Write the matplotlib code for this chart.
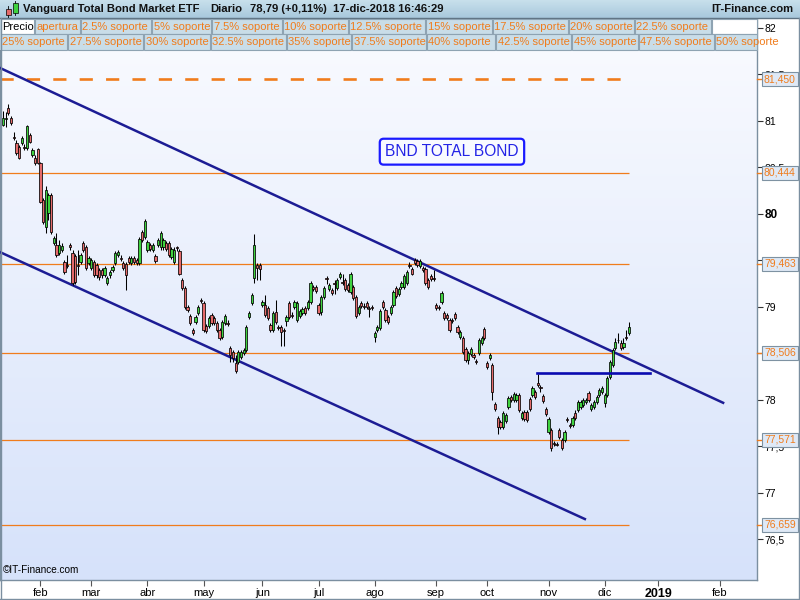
import matplotlib
matplotlib.use("Agg")
import matplotlib.pyplot as plt
import matplotlib.transforms as mtransforms
from matplotlib.colors import LinearSegmentedColormap
from matplotlib.patches import Rectangle
import numpy as np
import pandas as pd

plt.rcParams["font.family"] = ["Liberation Sans", "DejaVu Sans"]

# --- data ------------------------------------------------------------------
first_day = "2018-01-11"
last_day = "2018-12-17"
market_holidays = ["2018-01-15", "2018-02-19", "2018-03-30", "2018-05-28",
                   "2018-07-04", "2018-09-03", "2018-11-22", "2018-12-05"]

opens = [
    80.96, 81.02, 81.14, 81.03, 80.83, 80.76, 80.72, 80.76, 80.72, 80.71,
    80.85, 80.63, 80.60, 80.70, 80.55, 80.15, 79.86, 80.01, 80.20, 79.69,
    79.67, 79.58, 79.61, 79.48, 79.45, 79.67, 79.58, 79.55, 79.45, 79.48,
    79.69, 79.65, 79.47, 79.42, 79.48, 79.45, 79.40, 79.40, 79.34, 79.26,
    79.34, 79.40, 79.47, 79.56, 79.53, 79.47, 79.46, 79.53, 79.47, 79.53,
    79.51, 79.47, 79.81, 79.75, 79.61, 79.67, 79.61, 79.55, 79.67, 79.64,
    79.64, 79.69, 79.69, 79.54, 79.48, 79.64, 79.60, 79.29, 79.20, 79.00,
    78.90, 78.75, 78.84, 78.94, 79.08, 79.04, 78.80, 78.80, 78.91, 78.88,
    78.83, 78.75, 78.68, 78.83, 78.83, 78.56, 78.52, 78.40, 78.41, 78.46,
    78.51, 78.54, 78.89, 79.04, 79.31, 79.45, 79.45, 79.02, 79.02, 78.99,
    78.81, 78.75, 78.95, 78.78, 78.78, 78.75, 78.85, 79.04, 78.91, 79.00,
    78.86, 78.90, 78.94, 78.99, 78.99, 79.05, 79.22, 79.22, 79.02, 78.95,
    79.11, 79.31, 79.19, 79.18, 79.26, 79.20, 79.32, 79.27, 79.29, 79.24,
    79.16, 79.22, 79.11, 78.94, 79.04, 79.01, 79.04, 78.99, 79.00, 78.68,
    78.75, 78.77, 79.05, 78.97, 78.89, 78.94, 79.02, 79.20, 79.14, 79.22,
    79.22, 79.26, 79.45, 79.41, 79.51, 79.49, 79.44, 79.42, 79.41, 79.29,
    79.33, 79.31, 79.02, 79.00, 79.05, 78.94, 78.91, 78.86, 78.86, 78.92,
    78.78, 78.68, 78.67, 78.55, 78.43, 78.49, 78.48, 78.42, 78.51, 78.61,
    78.76, 78.40, 78.45, 78.38, 77.96, 77.81, 77.76, 77.71, 77.77, 77.92,
    78.03, 78.00, 78.00, 78.05, 77.81, 77.87, 77.87, 78.01, 78.05, 78.09,
    78.18, 78.14, 78.04, 77.90, 77.66, 77.68, 77.54, 77.53, 77.68, 77.57,
    77.57, 77.80, 77.73, 77.73, 77.86, 77.89, 77.92, 77.95, 77.98, 78.08,
    77.90, 77.92, 77.98, 78.05, 78.09, 77.97, 78.05, 78.25, 78.38, 78.56,
    78.65, 78.61, 78.57, 78.68, 78.72,
]
highs = [
    81.11, 81.10, 81.18, 81.05, 80.88, 80.80, 80.74, 80.84, 80.75, 80.96,
    80.87, 80.71, 80.63, 80.71, 80.56, 80.17, 80.30, 80.23, 80.23, 79.76,
    79.80, 79.72, 79.69, 79.51, 79.56, 79.69, 79.61, 79.57, 79.61, 79.58,
    79.71, 79.67, 79.55, 79.53, 79.51, 79.47, 79.42, 79.42, 79.44, 79.33,
    79.40, 79.45, 79.60, 79.61, 79.56, 79.49, 79.48, 79.55, 79.55, 79.55,
    79.53, 79.75, 79.83, 79.95, 79.72, 79.69, 79.69, 79.57, 79.74, 79.82,
    79.74, 79.71, 79.71, 79.65, 79.64, 79.66, 79.62, 79.31, 79.23, 79.02,
    78.92, 78.77, 78.91, 79.02, 79.10, 79.06, 78.82, 78.90, 78.94, 78.90,
    78.85, 78.77, 78.86, 78.92, 78.86, 78.58, 78.54, 78.48, 78.54, 78.54,
    78.56, 78.81, 78.96, 79.15, 79.78, 79.47, 79.47, 79.08, 79.13, 79.01,
    78.83, 78.96, 79.08, 78.81, 78.81, 78.77, 78.91, 79.06, 78.95, 79.08,
    79.06, 78.98, 79.00, 79.01, 79.08, 79.28, 79.24, 79.24, 79.04, 79.13,
    79.23, 79.33, 79.26, 79.20, 79.29, 79.31, 79.38, 79.36, 79.31, 79.26,
    79.38, 79.24, 79.13, 79.02, 79.06, 79.04, 79.06, 79.01, 79.02, 78.74,
    78.81, 78.98, 79.08, 78.99, 78.91, 79.02, 79.18, 79.23, 79.22, 79.28,
    79.35, 79.40, 79.48, 79.43, 79.53, 79.52, 79.52, 79.44, 79.43, 79.31,
    79.35, 79.40, 79.04, 79.02, 79.17, 78.96, 78.94, 78.88, 78.88, 78.95,
    78.81, 78.75, 78.69, 78.57, 78.53, 78.57, 78.51, 78.44, 78.67, 78.69,
    78.78, 78.42, 78.51, 78.40, 77.98, 77.83, 77.78, 77.88, 77.86, 78.04,
    78.05, 78.09, 78.08, 78.08, 77.88, 77.89, 77.89, 78.03, 78.15, 78.11,
    78.28, 78.16, 78.06, 77.92, 77.82, 77.70, 77.56, 77.55, 77.70, 77.59,
    77.68, 77.82, 77.75, 77.83, 77.89, 78.00, 78.00, 78.02, 78.02, 78.10,
    77.97, 78.00, 78.05, 78.13, 78.15, 78.08, 78.26, 78.43, 78.56, 78.67,
    78.72, 78.64, 78.67, 78.75, 78.84,
]
lows = [
    80.95, 80.94, 81.06, 80.96, 80.80, 80.63, 80.59, 80.74, 80.69, 80.69,
    80.76, 80.61, 80.53, 80.54, 80.12, 79.89, 79.80, 79.94, 79.79, 79.67,
    79.54, 79.56, 79.59, 79.35, 79.42, 79.61, 79.24, 79.25, 79.34, 79.46,
    79.59, 79.40, 79.45, 79.40, 79.32, 79.31, 79.29, 79.31, 79.32, 79.24,
    79.31, 79.38, 79.45, 79.54, 79.49, 79.40, 79.18, 79.46, 79.45, 79.46,
    79.45, 79.45, 79.70, 79.73, 79.59, 79.60, 79.59, 79.47, 79.65, 79.61,
    79.61, 79.60, 79.54, 79.52, 79.46, 79.60, 79.34, 79.18, 78.98, 78.95,
    78.81, 78.70, 78.82, 78.91, 79.04, 78.73, 78.72, 78.77, 78.81, 78.81,
    78.73, 78.64, 78.66, 78.81, 78.80, 78.41, 78.41, 78.29, 78.39, 78.44,
    78.48, 78.52, 78.87, 79.02, 79.26, 79.29, 79.29, 79.00, 78.89, 78.86,
    78.73, 78.73, 78.82, 78.75, 78.58, 78.58, 78.80, 78.87, 78.88, 78.98,
    78.84, 78.88, 78.91, 78.91, 78.97, 79.03, 79.17, 79.15, 78.91, 78.91,
    79.09, 79.25, 79.17, 79.13, 79.14, 79.18, 79.30, 79.24, 79.17, 79.16,
    79.14, 79.08, 78.88, 78.91, 78.99, 78.98, 78.98, 78.89, 78.97, 78.62,
    78.73, 78.75, 78.98, 78.84, 78.82, 78.91, 79.00, 79.10, 79.12, 79.19,
    79.19, 79.24, 79.42, 79.34, 79.45, 79.43, 79.42, 79.38, 79.24, 79.19,
    79.28, 79.28, 78.97, 78.97, 79.03, 78.86, 78.86, 78.73, 78.83, 78.86,
    78.71, 78.66, 78.49, 78.41, 78.39, 78.47, 78.44, 78.39, 78.48, 78.59,
    78.65, 78.33, 78.43, 78.00, 77.88, 77.63, 77.69, 77.69, 77.75, 77.90,
    77.98, 77.98, 77.98, 77.87, 77.78, 77.77, 77.76, 77.88, 78.03, 78.01,
    78.14, 78.09, 77.97, 77.83, 77.63, 77.45, 77.51, 77.50, 77.58, 77.46,
    77.55, 77.76, 77.70, 77.71, 77.78, 77.87, 77.90, 77.92, 77.96, 77.98,
    77.88, 77.90, 77.96, 78.03, 78.06, 77.92, 78.03, 78.23, 78.35, 78.54,
    78.61, 78.54, 78.55, 78.65, 78.70,
]
closes = [
    81.03, 81.03, 81.09, 80.98, 80.82, 80.66, 80.60, 80.82, 80.71, 80.95,
    80.77, 80.69, 80.55, 80.55, 80.13, 79.91, 80.26, 80.20, 79.81, 79.74,
    79.56, 79.67, 79.66, 79.38, 79.44, 79.65, 79.26, 79.27, 79.44, 79.56,
    79.61, 79.42, 79.53, 79.51, 79.34, 79.34, 79.32, 79.34, 79.42, 79.31,
    79.38, 79.43, 79.58, 79.59, 79.52, 79.42, 79.34, 79.48, 79.53, 79.48,
    79.47, 79.73, 79.72, 79.92, 79.70, 79.62, 79.67, 79.49, 79.72, 79.80,
    79.72, 79.62, 79.56, 79.62, 79.61, 79.63, 79.36, 79.20, 79.00, 78.97,
    78.83, 78.72, 78.89, 79.00, 79.06, 78.75, 78.74, 78.88, 78.83, 78.83,
    78.75, 78.67, 78.84, 78.90, 78.82, 78.48, 78.45, 78.31, 78.52, 78.52,
    78.54, 78.78, 78.94, 79.13, 79.67, 79.42, 79.41, 79.05, 78.91, 78.88,
    78.75, 78.94, 78.84, 78.77, 78.73, 78.74, 78.89, 78.89, 78.90, 79.05,
    79.04, 78.96, 78.98, 78.94, 79.05, 79.26, 79.19, 79.17, 78.94, 79.11,
    79.20, 79.30, 79.24, 79.15, 79.25, 79.29, 79.36, 79.26, 79.19, 79.18,
    79.35, 79.10, 78.90, 79.00, 79.01, 79.00, 79.00, 78.98, 78.99, 78.72,
    78.78, 78.96, 79.00, 78.86, 78.84, 79.00, 79.16, 79.12, 79.19, 79.26,
    79.33, 79.38, 79.44, 79.36, 79.47, 79.45, 79.49, 79.40, 79.26, 79.22,
    79.30, 79.30, 78.99, 78.99, 79.15, 78.88, 78.88, 78.75, 78.85, 78.88,
    78.73, 78.73, 78.52, 78.43, 78.51, 78.55, 78.46, 78.41, 78.65, 78.67,
    78.67, 78.35, 78.48, 78.09, 77.90, 77.71, 77.71, 77.86, 77.84, 78.02,
    78.00, 78.06, 78.05, 77.89, 77.86, 77.80, 77.78, 77.90, 78.13, 78.03,
    78.16, 78.13, 77.99, 77.85, 77.80, 77.48, 77.53, 77.52, 77.60, 77.48,
    77.66, 77.78, 77.72, 77.81, 77.81, 77.98, 77.98, 78.00, 78.00, 78.00,
    77.95, 77.98, 78.03, 78.11, 78.13, 78.05, 78.24, 78.41, 78.54, 78.62,
    78.64, 78.56, 78.61, 78.67, 78.79,
]

month_starts = ["2018-02-01", "2018-03-01", "2018-04-01", "2018-05-01",
                "2018-06-01", "2018-07-01", "2018-08-01", "2018-09-01",
                "2018-10-01", "2018-11-01", "2018-12-01", "2019-01-01",
                "2019-02-01"]
month_labels = ["feb", "mar", "abr", "may", "jun", "jul", "ago", "sep",
                "oct", "nov", "dic", "2019", "feb"]

levels = [81.450, 80.444, 79.463, 78.506, 77.571, 76.659]
level_labels = ["81,450", "80,444", "79,463", "78,506", "77,571", "76,659"]

# trend lines as (bar index, price) end points
upper_channel = ([-1.1, 269.3], [81.57, 77.97])
lower_channel = ([-1.1, 217.6], [79.59, 76.72])
resistance = ([199.7, 242.0], [78.29, 78.29])

note_text = "BND TOTAL BOND"
note_pos = (167.9, 80.67)

# --- calendar --------------------------------------------------------------
hist_days = pd.bdate_range(first_day, last_day, freq="C", holidays=market_holidays)
future_days = pd.bdate_range("2018-12-18", "2019-03-01")
all_days = hist_days.append(future_days)
tick_pos = [all_days.searchsorted(pd.Timestamp(m)) for m in month_starts]

x = np.arange(len(closes))
o = np.array(opens)
h = np.array(highs)
l = np.array(lows)
c = np.array(closes)

# --- figure ----------------------------------------------------------------
fig = plt.figure(figsize=(8, 6), dpi=100, facecolor="white")
W, H = 800, 600
ax = fig.add_axes([0, (H - 580) / H, 757 / W, (580 - 18) / H])

bg = LinearSegmentedColormap.from_list("bg", ["#fafbff", "#d6e2fa"])
ax.imshow(np.linspace(0, 1, 256).reshape(-1, 1), cmap=bg, aspect="auto",
          extent=[0, 1, 0, 1], transform=ax.transAxes, zorder=0)

orange = "#f07c1c"
last = len(closes) - 1
ax.hlines(levels[1:], -1.1, last, colors=orange, lw=0.9, zorder=2)
ax.plot([-1.1, last], [levels[0], levels[0]], color=orange, lw=1.9,
        dashes=(5.0, 5.0), zorder=2)

ax.plot(*upper_channel, color="#1c1c94", lw=1.8, zorder=3)
ax.plot(*lower_channel, color="#1c1c94", lw=1.8, zorder=3)
ax.plot(*resistance, color="#0a0ab0", lw=1.9, zorder=5)

up = c >= o
ax.vlines(x, l, h, colors="black", lw=0.75, zorder=4)
body_h = np.maximum(np.abs(c - o), 0.008)
ax.bar(x, body_h, bottom=np.minimum(o, c), width=0.85,
       color=np.where(up, "#3fd23f", "#e46a6a"), edgecolor="black",
       linewidth=0.55, zorder=4)

ax.text(*note_pos, note_text, color="#2424e6", fontsize=11.2, ha="center",
        va="center", zorder=6,
        bbox=dict(boxstyle="round,pad=0.35,rounding_size=0.25",
                  fc="#f8faff", ec="#1a1aff", lw=1.6))

ax.text(0.004, 0.012, "\u00a9IT-Finance.com", transform=ax.transAxes,
        fontsize=7.2, color="black", zorder=6)

ax.set_xlim(-1.12, 281.97)
ax.set_ylim(76.0645, 82.1075)

# axes look
ax.spines["top"].set_visible(False)
for side in ["left", "right", "bottom"]:
    ax.spines[side].set_color("#7b8fa0")
    ax.spines[side].set_linewidth(1.0)

ax.set_xticks(tick_pos)
ax.set_xticklabels(month_labels)
ax.tick_params(axis="x", direction="out", length=4, width=0.8,
               color="#555555", labelsize=8, pad=2)
for lbl in ax.get_xticklabels():
    if lbl.get_text() == "2019":
        lbl.set_fontweight("bold")
        lbl.set_fontsize(9)

yt = np.arange(76.5, 82.01, 0.5)
ax.yaxis.tick_right()
ax.set_yticks(yt)
ax.set_yticklabels([f"{v:g}".replace(".", ",") for v in yt])
ax.tick_params(axis="y", direction="out", length=4, width=0.8,
               color="#333333", labelsize=7.5, pad=1.5)
for lbl in ax.get_yticklabels():
    if lbl.get_text() == "80":
        lbl.set_fontweight("bold")
        lbl.set_fontsize(8.5)

trans = mtransforms.blended_transform_factory(ax.transAxes, ax.transData)
for lvl, txt in zip(levels, level_labels):
    ax.plot([1.0, 1.0 + 6 / 757], [lvl, lvl], color=orange, lw=1.0,
            transform=trans, clip_on=False, zorder=7)
    ax.text(1.0 + 7 / 757, lvl, txt, transform=trans, color=orange,
            fontsize=7.5, ha="left", va="center", zorder=8, clip_on=False,
            bbox=dict(boxstyle="square,pad=0.18", fc="#dfe9f6",
                      ec="#7e92a2", lw=0.8))

# --- header / button bar overlay (pixel coordinates) -----------------------
ov = fig.add_axes([0, 0, 1, 1], zorder=10)
ov.set_xlim(0, W)
ov.set_ylim(H, 0)
ov.axis("off")
ov.patch.set_alpha(0)

hdr = LinearSegmentedColormap.from_list("hdr", ["#c8e0ec", "#a8c8dc"])
ov.imshow(np.linspace(0, 1, 64).reshape(-1, 1), cmap=hdr, aspect="auto",
          extent=[0, W, 18, 0], zorder=1)
ov.plot([0, W], [18, 18], color="#5f7383", lw=1.0, zorder=2)

# icon
ov.plot([8, 8], [6, 17], color="black", lw=0.6, zorder=2)
ov.add_patch(Rectangle((5.5, 8.5), 5, 6.5, fc="#e46a6a", ec="black", lw=0.5, zorder=3))
ov.plot([15, 15], [1, 15], color="black", lw=0.6, zorder=2)
ov.add_patch(Rectangle((12.5, 3), 5, 10, fc="#3fd23f", ec="black", lw=0.5, zorder=3))

hfont = dict(fontsize=8.1, fontweight="bold", color="#111111", va="center", zorder=3)
ov.text(23, 9.5, "Vanguard Total Bond Market ETF", **hfont)
ov.text(210, 9.5, "Diario", **hfont)
ov.text(250, 9.5, "78,79 (+0,11%)", **hfont)
ov.text(333, 9.5, "17-dic-2018 16:46:29", **hfont)
ov.text(793, 9.5, "IT-Finance.com", ha="right", **hfont)

row1 = ["Precio", "apertura", "2.5% soporte", "5% soporte", "7.5% soporte",
        "10% soporte", "12.5% soporte", "15% soporte", "17.5% soporte",
        "20% soporte", "22.5% soporte", ""]
edges1 = [0, 34, 80, 151, 211, 282, 348, 425, 492, 568, 634, 711, 757]
row2 = ["25% soporte", "27.5% soporte", "30% soporte", "32.5% soporte",
        "35% soporte", "37.5% soporte", "40% soporte", "42.5% soporte",
        "45% soporte", "47.5% soporte", "50% soporte"]
edges2 = [0, 67, 143, 210, 286, 351, 426, 495, 571, 638, 714, 757]

ov.add_patch(Rectangle((0, 18), 757, 32, fc="#c6dbe6", ec="none", zorder=1))
for labels, edges, y0 in [(row1, edges1, 18.5), (row2, edges2, 34)]:
    for i, lab in enumerate(labels):
        x0, x1 = edges[i], edges[i + 1]
        face = "white" if lab in ("Precio", "") else "#c9dde8"
        rect = Rectangle((x0 + 0.5, y0), x1 - x0 - 1, 15.5, fc=face,
                         ec="#8ea3b2", lw=0.8, zorder=2)
        ov.add_patch(rect)
        if lab:
            t = ov.text(x0 + 2.5, y0 + 8.3, lab, fontsize=8,
                        color="black" if lab == "Precio" else orange,
                        va="center", ha="left", zorder=3)
            t.set_clip_path(rect)

# outer frame of the axis panels
frame = "#7b8fa0"
ov.plot([798.5, 798.5], [18, 598.5], color=frame, lw=1.0, zorder=2)
ov.plot([0, 798.5], [598.5, 598.5], color=frame, lw=1.0, zorder=2)
ov.plot([0.5, 0.5], [18, 598.5], color=frame, lw=1.0, zorder=2)

fig.savefig("out.png", dpi=100, facecolor="white")
